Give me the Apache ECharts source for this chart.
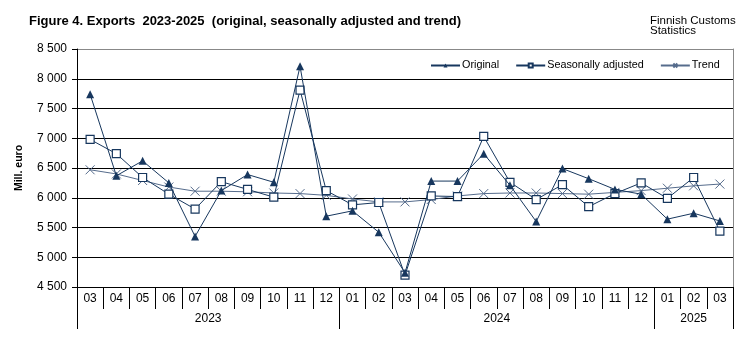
<!DOCTYPE html>
<html>
<head>
<meta charset="utf-8">
<script src="https://cdn.jsdelivr.net/npm/echarts@6/dist/echarts.min.js"></script>
<style>
html,body{margin:0;padding:0;background:#fff;}
#c{width:756px;height:340px;}
</style>
</head>
<body>
<div id="c"></div>
<script>
var months = ['03','04','05','06','07','08','09','10','11','12','01','02','03','04','05','06','07','08','09','10','11','12','01','02','03'];
var years = ['2023','2024','2025'];
var yearStart = [0, 10, 22];
var yearLen = [10, 12, 3];
var original = [7740,6370,6620,6250,5350,6120,6390,6260,8210,5690,5780,5420,4740,6280,6280,6740,6210,5600,6490,6320,6140,6060,5640,5740,5610];
var seasAdj = [6980,6740,6340,6060,5810,6270,6140,6010,7810,6120,5880,5920,4700,6030,6020,7030,6260,5970,6220,5850,6070,6250,5990,6340,5440];
var trend = [6470,6400,6290,6180,6110,6110,6100,6080,6070,6040,5980,5930,5930,5970,6030,6070,6080,6080,6070,6060,6090,6120,6160,6200,6230];
var yTicks = ['4 500','5 000','5 500','6 000','6 500','7 000','7 500','8 000','8 500'];

// Year axis: half-month positions (boundaryGap false), 2*N+1 points
var N = months.length;
var halfCats = [];
for (var i = 0; i <= 2 * N; i++) halfCats.push('');
var sepIdx = [];
var labIdx = {};
for (var j = 0; j < years.length; j++) {
  sepIdx.push(2 * yearStart[j]);
  var c = 2 * yearStart[j] + yearLen[j];
  labIdx[c] = years[j];
  halfCats[c] = years[j];
}
sepIdx.push(2 * N);

var FONT = '"Liberation Sans", Arial, sans-serif';
var navy = '#17375e';
var trendCol = '#566c8c';

var chart = echarts.init(document.getElementById('c'), null, {renderer: 'canvas'});
chart.setOption({
  animation: false,
  backgroundColor: '#fff',
  textStyle: {fontFamily: FONT},
  title: [
    {text: 'Figure 4. Exports  2023-2025  (original, seasonally adjusted and trend)', left: 24, top: 10,
     textStyle: {fontFamily: FONT, fontSize: 13, fontWeight: 'bold', color: '#000'}},
    {text: 'Finnish Customs\nStatistics', left: 645, top: 11,
     textStyle: {fontFamily: FONT, fontSize: 11.5, fontWeight: 'normal', color: '#000', lineHeight: 10}}
  ],
  legend: {
    left: 425, top: 55, itemWidth: 29, itemHeight: 5, itemGap: 16,
    textStyle: {fontFamily: FONT, fontSize: 10.8, color: '#000', padding: [0,0,0,-3]},
    data: ['Original', 'Seasonally adjusted', 'Trend']
  },
  grid: {left: 77, right: 23, top: 49, bottom: 53},
  xAxis: [
    {type: 'category', data: months, boundaryGap: true, position: 'bottom',
     axisLine: {lineStyle: {color: '#000', width: 1}},
     axisTick: {show: true, length: 22, lineStyle: {color: '#000'}},
     axisLabel: {interval: 0, margin: 6, fontSize: 12, color: '#000', fontFamily: FONT},
     splitLine: {show: false}},
    {type: 'category', data: halfCats, boundaryGap: false, position: 'bottom',
     axisLine: {show: false},
     axisTick: {show: true, length: 42, lineStyle: {color: '#000'},
       interval: function (idx) { return sepIdx.indexOf(idx) >= 0; }},
     axisLabel: {margin: 26, fontSize: 12, color: '#000', fontFamily: FONT,
       interval: function (idx) { return labIdx[idx] !== undefined; }},
     splitLine: {show: false}}
  ],
  yAxis: [
    {type: 'value', min: 4500, max: 8500, interval: 500, position: 'left',
     name: 'Mill. euro', nameLocation: 'middle', nameGap: 52, nameRotate: 90,
     nameTextStyle: {fontFamily: FONT, fontSize: 10.5, fontWeight: 'bold', color: '#000'},
     axisLine: {show: true, lineStyle: {color: '#000'}},
     axisTick: {show: true, length: 5, lineStyle: {color: '#000'}},
     axisLabel: {margin: 10, fontSize: 12, color: '#000', fontFamily: FONT,
       formatter: function (v) { return yTicks[Math.round((v - 4500) / 500)]; }},
     splitLine: {show: true, lineStyle: {color: ['#000','#000','#000','#000','#000','#000','#000','#000','#888'], width: 1}}},
    {type: 'value', min: 4500, max: 8500, interval: 500, position: 'right',
     axisLine: {show: true, lineStyle: {color: '#888'}},
     axisTick: {show: false}, axisLabel: {show: false}, splitLine: {show: false}}
  ],
  series: [
    {name: 'Trend', type: 'line', data: trend, xAxisIndex: 0, yAxisIndex: 0,
     symbol: 'path://M0,0L10,10M10,0L0,10', symbolSize: 9, showAllSymbol: true,
     lineStyle: {color: trendCol, width: 1},
     itemStyle: {color: 'rgba(0,0,0,0)', borderColor: trendCol, borderWidth: 1}, z: 2},
    {name: 'Seasonally adjusted', type: 'line', data: seasAdj, xAxisIndex: 0, yAxisIndex: 0,
     symbol: 'rect', symbolSize: 8, showAllSymbol: true,
     lineStyle: {color: navy, width: 1},
     itemStyle: {color: '#fff', borderColor: navy, borderWidth: 1.2}, z: 3},
    {name: 'Original', type: 'line', data: original, xAxisIndex: 0, yAxisIndex: 0,
     symbol: 'triangle', symbolSize: 8, showAllSymbol: true,
     lineStyle: {color: navy, width: 1},
     itemStyle: {color: navy, borderColor: navy, borderWidth: 0}, z: 4}
  ]
});
</script>
</body>
</html>
